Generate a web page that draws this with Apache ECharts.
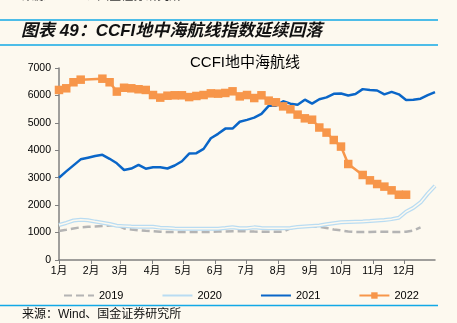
<!DOCTYPE html>
<html><head><meta charset="utf-8">
<script src="https://cdn.jsdelivr.net/npm/echarts@6/dist/echarts.min.js"></script>
<style>html,body{margin:0;padding:0;background:#fdf9ef;}#c{width:457px;height:323px;}</style>
</head><body><div id="c"></div>
<script>
const monthLabels = ['1月','2月','3月','4月','5月','6月','7月','8月','9月','10月','11月','12月'];
const monthStartDays = [0,31,59,90,120,151,181,212,243,273,304,334];
const seriesNames = ['2019','2020','2021','2022'];

const weeks2019 = [0,1,2,3,4,5,6,7,8,9,10,11,12,13,14,15,16,17,18,19,20,21,22,23,24,25,26,27,28,29,30,31,32,33,34,35,36,37,38,39,40,41,42,43,44,45,46,47,48,49,50];
const values2019 = [1057,1100,1150,1192,1210,1225,1240,1255,1276,1150,1110,1083,1065,1050,1030,1020,1020,1020,1020,1020,1020,1025,1035,1040,1046,1050,1045,1035,1033,1033,1033,1033,1150,1210,1228,1225,1210,1170,1110,1080,1040,1020,1020,1025,1033,1030,1025,1020,1030,1075,1190];

const weeks2020 = [0,1,2,3,4,5,6,7,8,9,10,11,12,13,14,15,16,17,18,19,20,21,22,23,24,25,26,27,28,29,30,31,32,33,34,35,36,37,38,39,40,41,42,43,44,45,46,47,48,49,50,51,52];
const values2020 = [1276,1350,1440,1470,1450,1400,1360,1310,1250,1235,1220,1215,1215,1210,1180,1165,1150,1141,1141,1141,1141,1141,1141,1165,1190,1160,1155,1190,1165,1155,1155,1155,1170,1200,1225,1240,1255,1300,1340,1375,1385,1395,1405,1420,1440,1458,1490,1540,1760,1900,2100,2420,2698];

const weeks2021 = [0,1,2,3,4,5,6,7,8,9,10,11,12,13,14,15,16,17,18,19,20,21,22,23,24,25,26,27,28,29,30,31,32,33,34,35,36,37,38,39,40,41,42,43,44,45,46,47,48,49,50,51,52];
const values2021 = [3000,3230,3450,3670,3730,3790,3835,3690,3525,3281,3335,3465,3330,3378,3378,3335,3445,3600,3880,3895,4050,4440,4600,4790,4790,5040,5110,5190,5330,5620,5626,5790,5700,5663,5845,5700,5860,5930,6060,6070,6000,6050,6230,6200,6180,6040,6130,6040,5830,5840,5880,6010,6120];

const weeks2022 = [0,1,2,3,6,7,8,9,10,11,12,13,14,15,16,17,18,19,20,21,22,23,24,25,26,27,28,29,30,31,32,33,34,35,36,37,38,39,40,42,43,44,45,46,47,48];
const values2022 = [6200,6260,6480,6575,6610,6480,6140,6280,6260,6225,6200,6015,5920,5990,6005,6005,5940,5980,6015,6075,6065,6090,6150,5965,6015,5905,6005,5810,5750,5600,5495,5300,5165,5115,4830,4645,4375,4135,3500,3100,2905,2770,2675,2540,2380,2380];

const DAYS_PER_WEEK = 7;
const days = [];
for (let d = 0; d < 365; d++) days.push(String(d));
const dayToMonth = {};
monthStartDays.forEach((d, i) => { dayToMonth[d] = monthLabels[i]; });
const pairs = (w, v) => w.map((wk, i) => [wk * DAYS_PER_WEEK, v[i]]);

const bg = '#fdf9ef';
const font = '"Liberation Sans", Arial, "Noto Sans CJK SC", sans-serif';
const chart = echarts.init(document.getElementById('c'), null, {renderer: 'canvas'});
chart.setOption({
  backgroundColor: bg,
  animation: false,
  textStyle: {fontFamily: font},
  title: {
    text: 'CCFI地中海航线', left: 240, top: 50, textAlign: 'center',
    textStyle: {fontSize: 15, fontWeight: 'normal', color: '#000', fontFamily: font}
  },
  graphic: [
    {type: 'text', left: 22, top: -9.5, style: {text: '来源：Wind、国金证券研究所', fontSize: 12, fill: '#333', fontFamily: font}},
    {type: 'line', shape: {x1: 0, y1: 20, x2: 438, y2: 20}, style: {stroke: '#12a9e6', lineWidth: 1.5}},
    {type: 'text', left: 21, top: 23, style: {text: '图表 49：CCFI地中海航线指数延续回落', fontSize: 17, fontWeight: 'bold', fontStyle: 'italic', fill: '#111', fontFamily: font}},
    {type: 'line', shape: {x1: 0, y1: 45, x2: 438, y2: 45}, style: {stroke: '#12a9e6', lineWidth: 1.5}},
    {type: 'line', shape: {x1: 0, y1: 305.5, x2: 438, y2: 305.5}, style: {stroke: '#12a9e6', lineWidth: 1.5}},
    {type: 'text', left: 22, top: 309, style: {text: '来源：Wind、国金证券研究所', fontSize: 12, fill: '#111', fontFamily: font}}
  ],
  legend: {
    data: [
      {name: '2019', itemStyle: {opacity: 0}},
      {name: '2020', itemStyle: {opacity: 0}},
      {name: '2021', itemStyle: {opacity: 0}},
      {name: '2022'}
    ],
    left: 58, top: 285, itemWidth: 30, itemHeight: 8, itemGap: 38,
    textStyle: {fontSize: 11, color: '#000', fontFamily: font}
  },
  grid: {left: 59, right: 22, top: 68, bottom: 63, containLabel: false},
  xAxis: {
    type: 'category', data: days, boundaryGap: false,
    axisLine: {lineStyle: {color: '#808080', width: 1.5}},
    axisTick: {interval: (i) => dayToMonth[i] !== undefined, length: 4, lineStyle: {color: '#808080'}},
    axisLabel: {interval: (i) => dayToMonth[i] !== undefined, formatter: (v, i) => dayToMonth[i] || '', fontSize: 10.5, color: '#000', margin: 6},
    splitLine: {show: false}
  },
  yAxis: {
    type: 'value', min: 0, max: 7000, interval: 1000,
    axisLine: {show: true, lineStyle: {color: '#808080', width: 1.5}},
    axisTick: {show: true, length: 4, lineStyle: {color: '#808080'}},
    axisLabel: {fontSize: 10.5, color: '#000', margin: 8, formatter: (v) => String(v)},
    splitLine: {show: false}
  },
  series: [
    {name: '2019', type: 'line', data: pairs(weeks2019, values2019), symbol: 'none', color: '#b4b4b4',
     lineStyle: {color: '#b4b4b4', width: 2.5, type: [8, 4]}, z: 2},
    {name: '2020', type: 'line', data: pairs(weeks2020, values2020), symbol: 'none', color: '#b9dcf2',
     lineStyle: {color: '#b9dcf2', width: 4}, z: 3},
    {name: '2020 ', type: 'line', data: pairs(weeks2020, values2020), symbol: 'none', color: bg,
     lineStyle: {color: bg, width: 1.5}, z: 4, legendHoverLink: false, silent: true},
    {name: '2021', type: 'line', data: pairs(weeks2021, values2021), symbol: 'none', color: '#0a66c8',
     lineStyle: {color: '#0a66c8', width: 2.5}, z: 5},
    {name: '2022', type: 'line', data: pairs(weeks2022, values2022), symbol: 'rect', symbolSize: 8.5, showAllSymbol: true,
     color: '#f7964a', itemStyle: {color: '#f7964a'}, lineStyle: {color: '#f7964a', width: 2.5}, z: 6}
  ]
});
</script></body></html>
